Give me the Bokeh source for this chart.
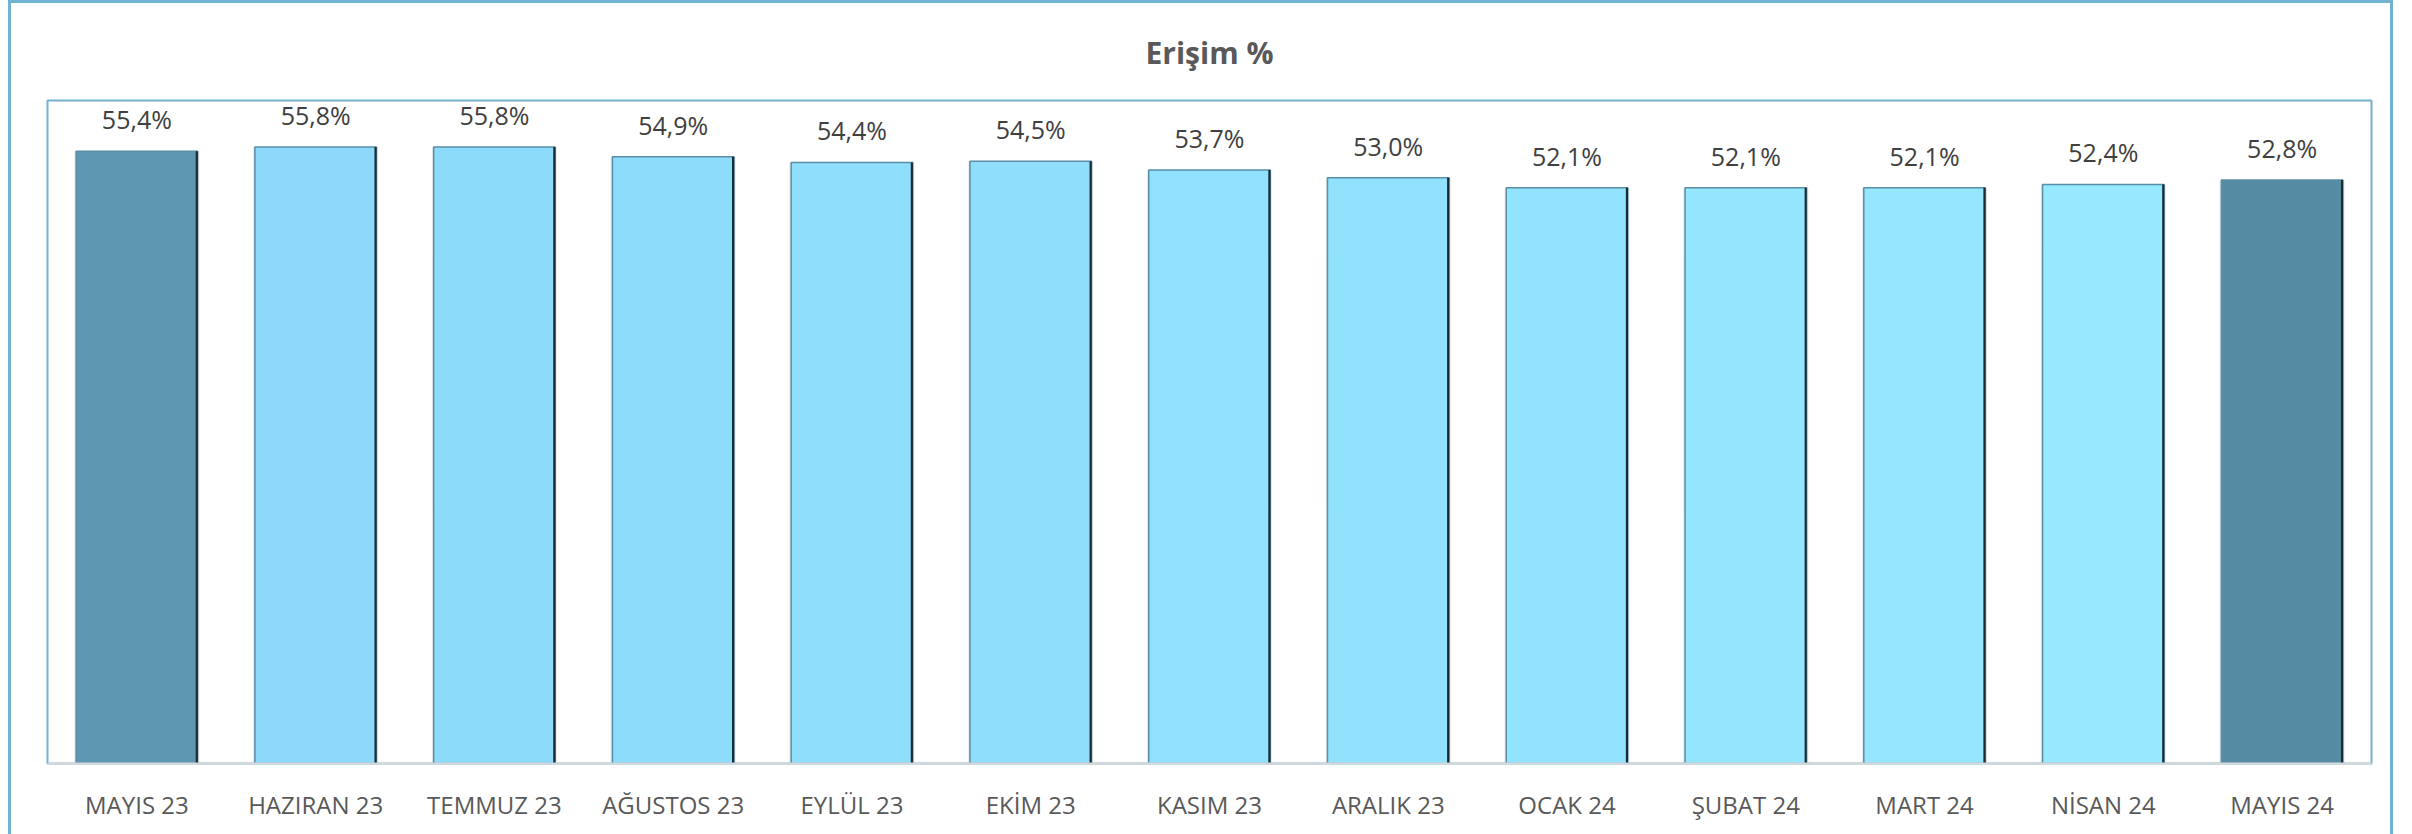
from bokeh.plotting import figure
from bokeh.models import ColumnDataSource, LabelSet, Range1d
from bokeh.core.properties import value
from bokeh.transform import dodge
from bokeh.embed import file_html
from bokeh.resources import INLINE

categories = ["MAYIS 23", "HAZIRAN 23", "TEMMUZ 23", "AĞUSTOS 23", "EYLÜL 23", "EKİM 23",
              "KASIM 23", "ARALIK 23", "OCAK 24", "ŞUBAT 24", "MART 24", "NİSAN 24", "MAYIS 24"]
values = [55.4, 55.8, 55.8, 54.9, 54.4, 54.5, 53.7, 53.0, 52.1, 52.1, 52.1, 52.4, 52.8]
bar_colors = ["#5E97B1", "#8CD9FB", "#8DDBFB", "#8DDCFC", "#8EDEFC", "#8FDFFC", "#90E1FD",
              "#91E3FD", "#92E4FE", "#93E6FE", "#94E7FF", "#96E9FF", "#568CA3"]
title_text = "Erişim %"
y_max = 60

labels = [f"{v:.1f}".replace(".", ",") + "%" for v in values]
src = ColumnDataSource(dict(cat=categories, val=values, col=bar_colors, lab=labels))

FONT = "Open Sans"
BLUE = "#72B2D2"
p = figure(x_range=categories, y_range=Range1d(0, y_max), width=2412, height=834,
           output_backend="svg", toolbar_location=None, title=title_text,
           min_border_left=47, min_border_right=41, min_border_top=100, min_border_bottom=71)

p.border_fill_color = None
p.background_fill_color = "white"
p.styles = {
    "background-color": "white",
    "background-image": f"linear-gradient({BLUE},{BLUE}), linear-gradient({BLUE},{BLUE}), linear-gradient({BLUE},{BLUE})",
    "background-position": "8px 0px, 2390px 0px, 8px 0px",
    "background-size": "3px 100%, 3px 100%, 2385px 3px",
    "background-repeat": "no-repeat",
}

p.title.align = "center"
p.title.text_font = FONT
p.title.text_font_size = "30px"
p.title.text_font_style = "bold"
p.title.text_color = "#595959"
p.title.standoff = 55
p.title.offset = -7

p.outline_line_color = BLUE
p.outline_line_width = 2
p.xgrid.grid_line_color = None
p.ygrid.grid_line_color = None
p.yaxis.visible = False

p.xaxis.axis_line_color = "#D9D9D9"
p.xaxis.axis_line_width = 2
p.xaxis.major_tick_line_color = None
p.xaxis.minor_tick_line_color = None
p.xaxis.major_label_standoff = 18
p.xaxis.major_label_text_font = FONT
p.xaxis.major_label_text_font_size = "24px"
p.xaxis.major_label_text_color = "#595959"

# soft shadow
p.vbar(x="cat", top="val", width=0.70, source=src, fill_color="#000000", fill_alpha=0.08,
       line_color=None)
# bars
p.vbar(x="cat", top="val", width=0.68, source=src, fill_color="col", line_color="#5A8EA6",
       line_width=1.5)
# dark right edge
p.vbar(x=dodge("cat", 0.335, range=p.x_range), top="val", width=0.012, source=src,
       fill_color="#1B2A33", line_color=None)

lbl = LabelSet(x="cat", y="val", text="lab", source=src, text_align="center",
               text_baseline="alphabetic", y_offset=22, text_font=value(FONT),
               text_font_size=value("25px"), text_color="#404040")
p.add_layout(lbl)

open("out.html", "w").write(file_html(p, INLINE))
